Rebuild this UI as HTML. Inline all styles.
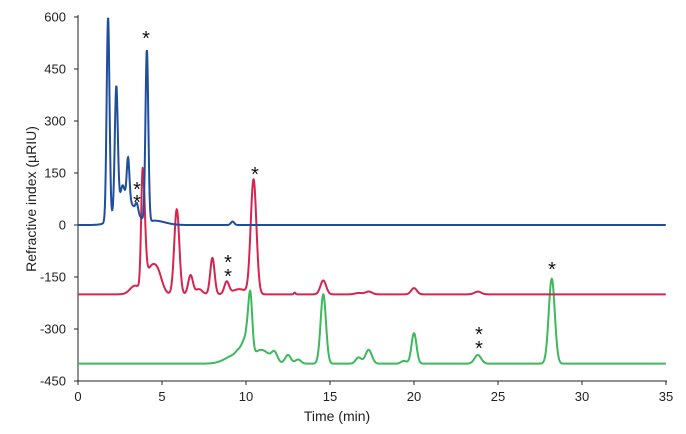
<!DOCTYPE html>
<html><head><meta charset="utf-8"><style>
html,body{margin:0;padding:0;background:#fff;}
svg{display:block;font-family:"Liberation Sans",sans-serif;}
</style></head><body>
<svg id="s" width="686" height="434" viewBox="0 0 686 434">
<g stroke="#222" stroke-width="1">
<line x1="78" y1="15" x2="78" y2="381"/>
<line x1="78" y1="381" x2="667" y2="381"/>
</g>
<g id="ticks" stroke="#222" stroke-width="1"></g>
<g id="labels" font-size="13" fill="#222"></g>
<text x="337" y="421" font-size="14" text-anchor="middle" fill="#222">Time (min)</text>
<text transform="translate(36,199) rotate(-90)" font-size="14" text-anchor="middle" fill="#222">Refractive index (µRIU)</text>
<path id="g" fill="none" stroke="#3db85c" stroke-width="2"/>
<path id="r" fill="none" stroke="#d6244f" stroke-width="2"/>
<path id="b" fill="none" stroke="#1f4e9c" stroke-width="2"/>
<g font-size="20" fill="#111" text-anchor="middle" id="stars"></g>
</svg>
<script>
var X=function(t){return 78+t*16.8},Y=function(v){return 225-v*0.3467};
var tk=document.getElementById('ticks'),lb=document.getElementById('labels'),NS='http://www.w3.org/2000/svg';
function el(p,n,a,txt){var e=document.createElementNS(NS,n);for(var k in a)e.setAttribute(k,a[k]);if(txt!=null)e.textContent=txt;p.appendChild(e);}
for(var v=600;v>=-450;v-=150){var y=Y(v);el(tk,'line',{x1:74,x2:78,y1:y,y2:y});el(lb,'text',{x:66,y:y+4.5,'text-anchor':'end'},v);}
for(var t=0;t<=35;t+=5){var x=X(t);el(tk,'line',{x1:x,x2:x,y1:381,y2:385});el(lb,'text',{x:x,y:401,'text-anchor':'middle'},t);}
function curve(id,base,pk,t0){var d='';for(var t=t0;t<=35;t+=0.01){var v=base;for(var i=0;i<pk.length;i++){var p=pk[i],z=(t-p[0])/p[2];if(p.length>3&&t>p[0])z=(t-p[0])/p[3];v+=p[1]*Math.exp(-0.5*z*z);}d+=(d?'L':'M')+X(t).toFixed(2)+','+Y(v).toFixed(2);}document.getElementById(id).setAttribute('d',d);}
curve('b',0,[[1.79,585,0.085],[2.28,360,0.09],[2.65,50,0.12],[2.98,125,0.08],[3.5,25,0.08],[4.1,495,0.085],[2.9,70,0.6,0.55],[4.6,12,0.3,0.6],[9.2,10,0.1]],0);
curve('r',-200,[[3.4,25,0.3],[3.85,340,0.09,0.13],[4.7,70,0.28],[4.25,55,0.25],[5.88,245,0.15],[6.7,55,0.14],[7.2,15,0.2],[8.0,105,0.13],[8.85,35,0.14],[9.6,15,0.4],[10.45,330,0.17],[12.9,5,0.05],[14.6,40,0.17],[17.3,8,0.2],[16.7,4,0.2],[20.0,18,0.17],[23.8,8,0.2]],0);
curve('g',-400,[[10.25,185,0.12],[10.0,70,0.3,0.12],[9.4,25,0.6,0.2],[10.9,40,0.5],[11.7,25,0.17],[12.5,25,0.17],[13.1,12,0.17],[14.6,200,0.16],[16.7,18,0.17],[17.3,40,0.19],[19.4,8,0.17],[20.0,88,0.15],[23.8,25,0.2],[28.2,245,0.18]],0);
var st=document.getElementById('stars');
[[146,34],[137,185],[137,198],[255,170],[228,258],[228,272],[479,330],[479,344],[552,265]].forEach(function(p){el(st,'text',{x:p[0],y:p[1]+11},'*');});
</script>
</body></html>
